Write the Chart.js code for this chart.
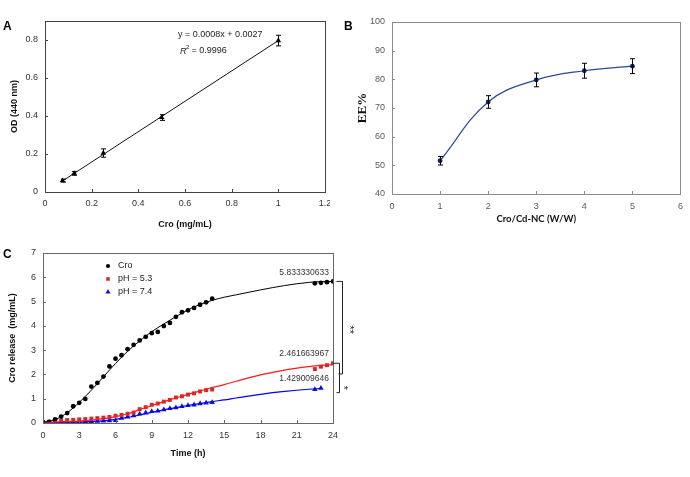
<!DOCTYPE html>
<html>
<head>
<meta charset="utf-8">
<script src="https://cdn.jsdelivr.net/npm/chart.js@4.4.0/dist/chart.umd.min.js"></script>
<style>
  body { margin: 0; background: #fff; width: 690px; height: 477px; position: relative; overflow: hidden; }
  .panel { position: absolute; overflow: hidden; }
  .tag { position: absolute; font: bold 12px 'Liberation Sans', Arial, sans-serif; color: #000; }
</style>
</head>
<body>
<div class="panel" style="left:0;top:0;width:330px;height:235px"><canvas id="chartA" width="340" height="235"></canvas></div>
<div class="panel" style="left:350px;top:0;width:340px;height:235px"><canvas id="chartB" width="340" height="235"></canvas></div>
<div class="panel" style="left:0;top:240px;width:380px;height:237px"><canvas id="chartC" width="380" height="237"></canvas></div>
<div class="tag" style="left:3px;top:19px">A</div>
<div class="tag" style="left:344px;top:19px">B</div>
<div class="tag" style="left:3px;top:247px">C</div>
<script>
// ---- A: calibration curve ----
const calConc = [0.075, 0.125, 0.25, 0.5, 1];
const calOD = [0.060, 0.098, 0.205, 0.392, 0.797];
const calErr = [0.008, 0.010, 0.022, 0.015, 0.028];
const calFitX = [0.075, 1];
const calFitY = [0.058, 0.797];

// ---- B: encapsulation efficiency ----
const ratioX = [1, 2, 3, 4, 5];
const eeValues = [51.6, 72.1, 79.8, 83.0, 84.6];
const eeErr = [1.5, 2.2, 2.4, 2.6, 2.6];

// ---- C: release profile ----
const seriesNames = ['Cro', 'pH = 5.3', 'pH = 7.4'];
const timeH = [0, 0.5, 1, 1.5, 2, 2.5, 3, 3.5, 4, 4.5, 5, 5.5, 6, 6.5, 7, 7.5, 8, 8.5, 9, 9.5,
  10, 10.5, 11, 11.5, 12, 12.5, 13, 13.5, 14, 22.5, 23, 23.5, 24];
const timeH74 = [0, 0.5, 1, 1.5, 2, 2.5, 3, 3.5, 4, 4.5, 5, 5.5, 6, 6.5, 7, 7.5, 8, 8.5, 9, 9.5,
  10, 10.5, 11, 11.5, 12, 12.5, 13, 13.5, 14, 22.5, 23];
const croRelease = [0.03, 0.05, 0.15, 0.26, 0.41, 0.69, 0.83, 0.99, 1.50, 1.65, 1.91, 2.33, 2.65, 2.79, 3.04, 3.22,
  3.40, 3.55, 3.70, 3.75, 3.99, 4.12, 4.37, 4.56, 4.64, 4.74, 4.87, 4.97, 5.12, 5.75, 5.77, 5.80, 5.83];
const ph53Release = [0.03, 0.05, 0.08, 0.08, 0.12, 0.13, 0.15, 0.16, 0.18, 0.20, 0.22, 0.25, 0.30, 0.33, 0.38, 0.43,
  0.57, 0.65, 0.75, 0.80, 0.88, 0.95, 1.05, 1.10, 1.17, 1.22, 1.30, 1.35, 1.38, 2.22, 2.32, 2.38, 2.46];
const ph74Release = [0.02, 0.02, 0.03, 0.04, 0.05, 0.05, 0.06, 0.07, 0.07, 0.08, 0.09, 0.10, 0.11, 0.20, 0.25, 0.30,
  0.37, 0.42, 0.48, 0.50, 0.55, 0.60, 0.63, 0.68, 0.72, 0.75, 0.80, 0.83, 0.85, 1.38, 1.43];
// fitted curves
const fitT = [0, 1, 2, 3, 4, 5, 6, 7, 8, 9, 10, 11, 12, 13, 14, 15, 16, 18, 20, 22, 23, 24];
const croFit = [0.03, 0.14, 0.42, 0.85, 1.35, 1.9, 2.45, 2.95, 3.38, 3.76, 4.08, 4.38, 4.66, 4.88, 5.05, 5.18, 5.28, 5.48, 5.66, 5.79, 5.82, 5.83];
const ph53Fit = [0.03, 0.04, 0.06, 0.08, 0.12, 0.18, 0.26, 0.38, 0.55, 0.72, 0.88, 1.03, 1.18, 1.32, 1.46, 1.58, 1.72, 1.98, 2.18, 2.32, 2.37, 2.40];
const fitT74 = [0, 1, 2, 3, 4, 5, 6, 7, 8, 9, 10, 11, 12, 13, 14, 15, 16, 18, 20, 22, 23];
const ph74Fit = [0.02, 0.02, 0.03, 0.04, 0.06, 0.09, 0.15, 0.23, 0.33, 0.44, 0.54, 0.63, 0.72, 0.80, 0.88, 0.95, 1.03, 1.18, 1.30, 1.39, 1.42];
const endLabels = ['5.833330633', '2.461663967', '1.429009646'];

const sans = "'Liberation Sans', Arial, sans-serif";
const pts = (xs, ys) => xs.map((x, i) => ({ x: x, y: ys[i] }));

// full frame + small inward tick marks
const frameTicks = {
  id: 'frameTicks',
  afterDraw(chart, args, opts) {
    const { ctx, chartArea: a, scales } = chart;
    ctx.save();
    ctx.strokeStyle = opts.color;
    ctx.lineWidth = 1;
    ctx.strokeRect(Math.round(a.left) + 0.5, Math.round(a.top) + 0.5, Math.round(a.right - a.left), Math.round(a.bottom - a.top));
    ctx.beginPath();
    scales.x.ticks.forEach(t => {
      const px = Math.round(scales.x.getPixelForValue(t.value)) + 0.5;
      ctx.moveTo(px, a.bottom); ctx.lineTo(px, a.bottom - 3);
    });
    scales.y.ticks.forEach(t => {
      const py = Math.round(scales.y.getPixelForValue(t.value)) + 0.5;
      ctx.moveTo(a.left, py); ctx.lineTo(a.left + 3, py);
    });
    ctx.stroke();
    ctx.restore();
  }
};

// vertical error bars from dataset.errors
const errorBars = {
  id: 'errorBars',
  afterDatasetsDraw(chart) {
    const { ctx, scales: { x, y } } = chart;
    ctx.save();
    ctx.strokeStyle = '#000';
    ctx.lineWidth = 1;
    chart.data.datasets.forEach(ds => {
      if (!ds.errors) return;
      ds.data.forEach((p, i) => {
        const px = Math.round(x.getPixelForValue(p.x)) + 0.5;
        const top = y.getPixelForValue(p.y + ds.errors[i]);
        const bot = y.getPixelForValue(p.y - ds.errors[i]);
        ctx.beginPath();
        ctx.moveTo(px, top); ctx.lineTo(px, bot);
        ctx.moveTo(px - 2.5, top); ctx.lineTo(px + 2.5, top);
        ctx.moveTo(px - 2.5, bot); ctx.lineTo(px + 2.5, bot);
        ctx.stroke();
      });
    });
    ctx.restore();
  }
};

function axis(min, max, step, size, titleText, titleFont, titlePad, tickPad, tickColor, tickSize, isY) {
  return {
    type: 'linear', min: min, max: max,
    grid: { display: false, drawTicks: false },
    border: { display: false },
    ticks: { stepSize: step, includeBounds: false, padding: tickPad, color: tickColor, maxRotation: 0, autoSkip: false,
      font: { family: sans, size: tickSize },
      callback: v => String(parseFloat(v.toFixed(2))) },
    title: { display: true, text: titleText, color: '#111', font: titleFont, padding: titlePad },
    afterFit: s => { if (isY) s.width = size; else s.height = size; }
  };
}

// ---- Chart A ----
new Chart(document.getElementById('chartA'), {
  type: 'scatter',
  data: {
    datasets: [
      { label: 'OD', data: pts(calConc, calOD), errors: calErr, pointStyle: 'triangle', pointRadius: 3.2,
        backgroundColor: '#000', borderColor: '#000', borderWidth: 0 },
      { label: 'fit', data: pts(calFitX, calFitY), showLine: true, pointRadius: 0, borderColor: '#111', borderWidth: 1 }
    ]
  },
  options: {
    responsive: false, animation: false,
    layout: { padding: { top: 21, right: 15, left: 0, bottom: 0 } },
    plugins: {
      legend: { display: false }, tooltip: { enabled: false },
      frameTicks: { color: '#444' }
    },
    scales: {
      x: axis(0, 1.2, 0.2, 43, 'Cro (mg/mL)', { family: sans, size: 9, weight: 'bold' }, { top: 0, bottom: 5 }, 6, '#333', 9, false),
      y: axis(0, 0.9, 0.2, 45, 'OD (440 nm)', { family: sans, size: 9, weight: 'bold' }, { top: 9, bottom: 0 }, 7, '#333', 9, true)
    }
  },
  plugins: [frameTicks, errorBars, {
    id: 'equation',
    afterDraw(chart) {
      const ctx = chart.ctx;
      ctx.save();
      ctx.fillStyle = '#222';
      ctx.textBaseline = 'middle';
      ctx.font = '9px ' + sans;
      ctx.fillText('y = 0.0008x + 0.0027', 178, 35);
      ctx.font = 'italic 9px ' + sans;
      ctx.fillText('R', 180, 51);
      ctx.font = '6px ' + sans;
      ctx.fillText('2', 186, 47);
      ctx.font = '9px ' + sans;
      ctx.fillText(' = 0.9996', 189, 51);
      ctx.restore();
    }
  }]
});

// ---- Chart B ----
new Chart(document.getElementById('chartB'), {
  type: 'scatter',
  data: {
    datasets: [
      { label: 'EE%', data: pts(ratioX, eeValues), errors: eeErr, showLine: true, tension: 0.4,
        pointStyle: 'circle', pointRadius: 2.4, pointBorderWidth: 0, backgroundColor: '#0b2466', borderColor: '#2a4a8f', borderWidth: 1.2 }
    ]
  },
  options: {
    responsive: false, animation: false,
    layout: { padding: { top: 22, right: 9, left: 0, bottom: 0 } },
    plugins: {
      legend: { display: false }, tooltip: { enabled: false },
      frameTicks: { color: '#8a8a8a' }
    },
    scales: {
      x: axis(0, 6, 1, 41, 'Cro/Cd-NC (W/W)', { family: 'Lato', size: 9.5, weight: 'bold' }, { top: 0, bottom: 10 }, 7, '#595959', 9, false),
      y: axis(40, 100, 10, 42, 'EE%', { family: "'Liberation Serif', 'Times New Roman', serif", size: 13, weight: 'bold' }, { top: 5, bottom: 0 }, 7, '#595959', 9, true)
    }
  },
  plugins: [frameTicks, errorBars]
});

// ---- Chart C ----
const seriesStyle = [
  { marker: 'circle', r: 2.4, fill: '#000', line: '#000' },
  { marker: 'rect', r: 2.8, fill: '#d22a2a', line: '#ff1a1a' },
  { marker: 'triangle', r: 3.2, fill: '#1010d8', line: '#0000ff' }
];
const seriesFinal = [croRelease[croRelease.length - 1], ph53Release[ph53Release.length - 1], ph74Release[ph74Release.length - 1]];

new Chart(document.getElementById('chartC'), {
  type: 'scatter',
  data: {
    datasets: [
      { label: seriesNames[0], data: pts(fitT, croFit), showLine: true, pointRadius: 0, cubicInterpolationMode: 'monotone', borderColor: seriesStyle[0].line, borderWidth: 1 },
      { label: seriesNames[1], data: pts(fitT, ph53Fit), showLine: true, pointRadius: 0, cubicInterpolationMode: 'monotone', borderColor: seriesStyle[1].line, borderWidth: 1.2 },
      { label: seriesNames[2], data: pts(fitT74, ph74Fit), showLine: true, pointRadius: 0, cubicInterpolationMode: 'monotone', borderColor: seriesStyle[2].line, borderWidth: 1.2 },
      { label: seriesNames[0], data: pts(timeH, croRelease), pointStyle: seriesStyle[0].marker, pointRadius: seriesStyle[0].r, backgroundColor: seriesStyle[0].fill, borderWidth: 0 },
      { label: seriesNames[1], data: pts(timeH, ph53Release), pointStyle: seriesStyle[1].marker, pointRadius: seriesStyle[1].r, backgroundColor: seriesStyle[1].fill, borderWidth: 0 },
      { label: seriesNames[2], data: pts(timeH74, ph74Release), pointStyle: seriesStyle[2].marker, pointRadius: seriesStyle[2].r, backgroundColor: seriesStyle[2].fill, borderWidth: 0 }
    ]
  },
  options: {
    responsive: false, animation: false,
    layout: { padding: { top: 13, right: 47, left: 0, bottom: 0 } },
    plugins: {
      legend: { display: false }, tooltip: { enabled: false },
      frameTicks: { color: '#666' }
    },
    scales: {
      x: axis(0, 24, 3, 54, 'Time (h)', { family: sans, size: 9, weight: 'bold' }, { top: 0, bottom: 18 }, 7, '#333', 9, false),
      y: axis(0, 7, 1, 43, 'Cro release  (mg/mL)', { family: sans, size: 9, weight: 'bold' }, { top: 7, bottom: 0 }, 7, '#333', 9, true)
    }
  },
  plugins: [frameTicks, {
    id: 'releaseNotes',
    afterDraw(chart) {
      const { ctx, chartArea: a, scales: { y } } = chart;
      ctx.save();
      // legend
      ctx.font = '9px ' + sans;
      ctx.textBaseline = 'middle';
      seriesNames.forEach((name, i) => {
        const cy = a.top + 13 + i * 13;
        ctx.fillStyle = seriesStyle[i].fill;
        Chart.helpers.drawPoint(ctx, { pointStyle: seriesStyle[i].marker, radius: seriesStyle[i].r - 0.3, rotation: 0, borderWidth: 0 }, a.left + 65, cy);
        ctx.fillStyle = '#222';
        ctx.fillText(name, a.left + 75, cy);
      });
      // end values
      ctx.font = '8.5px ' + sans;
      ctx.fillStyle = '#333';
      ctx.textAlign = 'right';
      ctx.textBaseline = 'bottom';
      endLabels.forEach((txt, i) => ctx.fillText(txt, a.right - 4, y.getPixelForValue(seriesFinal[i]) - 5));
      // significance brackets
      ctx.strokeStyle = '#222';
      ctx.lineWidth = 1;
      const bx1 = Math.round(a.right) + 9.5, bx2 = Math.round(a.right) + 6.5;
      const yTop = y.getPixelForValue(seriesFinal[0]), yMid = y.getPixelForValue(2.02);
      const yTop2 = y.getPixelForValue(seriesFinal[1]), yBot2 = y.getPixelForValue(1.25);
      ctx.beginPath();
      ctx.moveTo(bx1 - 6, yTop); ctx.lineTo(bx1, yTop); ctx.lineTo(bx1, yMid); ctx.lineTo(bx1 - 4, yMid);
      ctx.moveTo(a.right, yTop2); ctx.lineTo(bx2, yTop2); ctx.lineTo(bx2, yBot2); ctx.lineTo(bx2 - 3, yBot2);
      ctx.stroke();
      ctx.fillStyle = '#222';
      ctx.textAlign = 'center';
      ctx.textBaseline = 'middle';
      ctx.font = '11px ' + sans;
      ctx.save();
      ctx.translate(bx1 + 7, (yTop + yMid) / 2 + 2);
      ctx.rotate(Math.PI / 2);
      ctx.fillText('**', 0, 0);
      ctx.restore();
      ctx.save();
      ctx.translate(bx2 + 4, y.getPixelForValue(1.45));
      ctx.rotate(Math.PI / 2);
      ctx.fillText('*', 0, 0);
      ctx.restore();
      ctx.restore();
    }
  }]
});
</script>
</body>
</html>
